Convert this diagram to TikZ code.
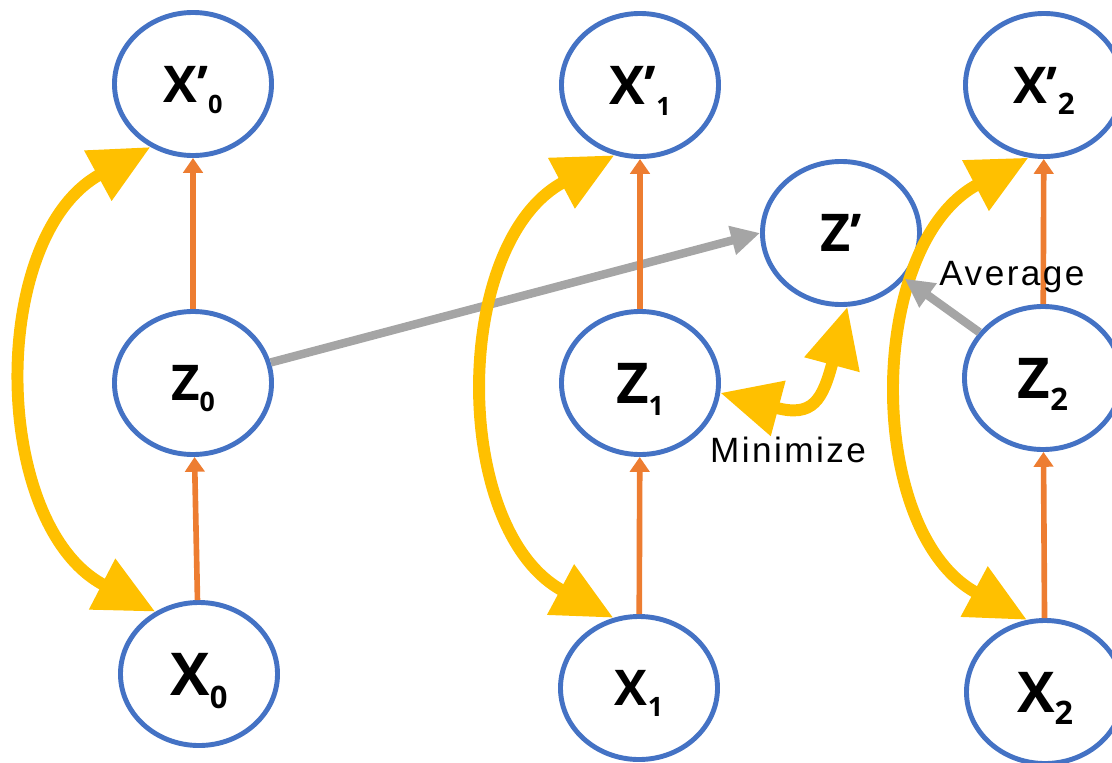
\documentclass[tikz,border=0pt]{standalone}
\usepackage{fontspec}
\usepackage{tikz}
\usetikzlibrary{arrows.meta,shapes.geometric}
\newfontfamily\nodefont{Open Sans}
\newfontfamily\tagfont{Liberation Sans}[LetterSpace=7]
\definecolor{vblue}{HTML}{4472C4}
\definecolor{encorange}{HTML}{ED7D31}
\definecolor{pairyellow}{HTML}{FFC000}
\definecolor{zgray}{HTML}{A5A5A5}
% main size, index size, letter, index
\newcommand{\vlab}[4]{\fontsize{#1pt}{#1pt}\selectfont #3\smash{\raisebox{-0.22em}{\fontsize{#2pt}{#2pt}\selectfont #4}}}
\tikzset{
  var/.style={ellipse, draw=vblue, line width=3.5pt, fill=white, minimum width=3.925cm,
              minimum height=3.575cm, inner sep=0pt, font=\nodefont\bfseries},
  enc/.style={-{Triangle[length=0.37cm, width=0.48cm]}, line width=4pt, draw=encorange},
  pair/.style={{Triangle[length=1.5cm, width=1.35cm]}-{Triangle[length=1.5cm, width=1.35cm]},
               line width=8.5pt, draw=pairyellow},
  agg/.style={-{Triangle[length=0.72cm, width=0.7cm]}, line width=6pt, draw=zgray},
  tag/.style={font=\tagfont\fontsize{25pt}{25pt}\selectfont},
}

\begin{document}
\begin{tikzpicture}[x=0.025cm, y=0.025cm]
  \useasboundingbox (0,0) rectangle (1112,-763);
  % three columns: x -> z -> x'
  \node[var] (xp0) at (193,-84)  {\vlab{36}{18}{X’}{0}};
  \node[var] (z0)  at (193,-383) {\vlab{35}{19}{Z}{0}};
  \node[var] (x0)  at (199,-674) {\vlab{42}{22}{X}{0}};
  \node[var] (xp1) at (640,-85)  {\vlab{38}{18}{X’}{1}};
  \node[var] (z1)  at (640,-383) {\vlab{40}{19}{Z}{1}};
  \node[var] (x1)  at (639,-688) {\vlab{35}{19}{X}{1}};
  \node[var] (xp2) at (1044,-85)  {\vlab{36}{21}{X’}{2}};
  \node[var] (z2)  at (1043,-378) {\vlab{40}{22}{Z}{2}};
  \node[var] (x2)  at (1045,-692) {\vlab{40}{23}{X}{2}};
  \node[var] (zp)  at (841,-233)  {\vlab{37}{20}{Z’}{}};

  \draw[agg] (z0) -- (zp.west);

  \draw[enc] (z0) -- (xp0);
  \draw[enc] (x0) -- (z0);
  \draw[enc] (z1) -- (xp1);
  \draw[enc] (x1) -- (z1);
  \draw[enc] (z2) -- (xp2);
  \draw[enc] (x2) -- (z2);

  \draw[pair] (x0.125) to[bend left=62, looseness=1.02] (xp0.236);
  \draw[pair] (x1.110) to[bend left=62, looseness=1.02] (xp1.250);
  \draw[pair] (x2.104) to[bend left=62, looseness=1.02] (xp2.258);
  \draw[pair] (z1.-7) to[out=-15, in=255, looseness=1.6] (zp.-85);

  \draw[agg] (z2) -- (zp);

  \node[tag] (avg)  at (1012,-277) {Average};
  \node[tag] (mini) at (788,-450)  {Minimize};
\end{tikzpicture}
\end{document}
